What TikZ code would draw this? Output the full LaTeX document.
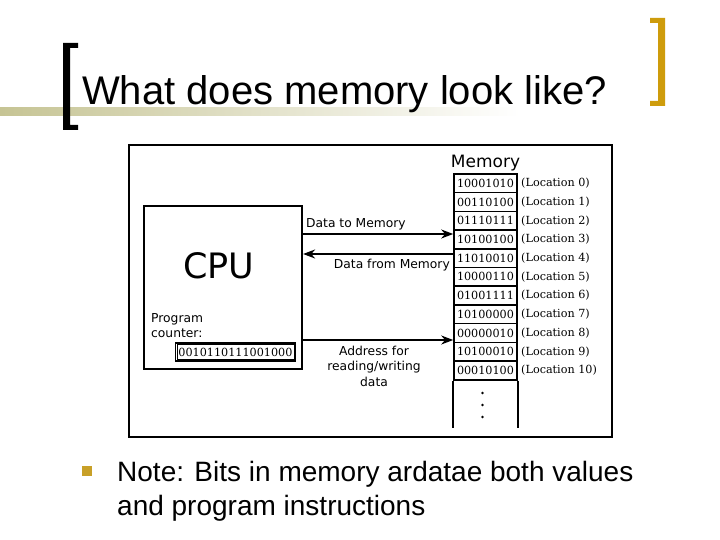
\documentclass[tikz,border=0pt]{standalone}
\usepackage{fontspec}
\setmainfont{Liberation Sans}
\newfontfamily\dvs{DejaVu Sans}
\newfontfamily\dvserif{DejaVu Serif}
\usetikzlibrary{arrows.meta}
\definecolor{gold}{RGB}{206,156,12}
\definecolor{khaki}{RGB}{198,196,148}
\definecolor{bulletc}{RGB}{200,160,40}
\begin{document}
\begin{tikzpicture}[x=1pt,y=-1pt,
  arr/.style={line width=1.8pt,-{Stealth[length=12pt,width=9pt]}},
  cell/.style={draw,line width=1.6pt,minimum width=63pt,minimum height=18.7pt,inner sep=0pt,font=\dvserif\fontsize{11.2}{13}\selectfont},
  loc/.style={anchor=west,inner sep=0pt,font=\dvserif\fontsize{11.2}{13}\selectfont},
  lbl/.style={inner sep=0pt,font=\dvs\fontsize{12.3}{15}\selectfont},
]
\useasboundingbox (0,0) rectangle (720,540);
\fill[white] (0,0) rectangle (720,540);
% title decoration
\shade[left color=khaki,right color=white] (0,108) rectangle (520,116);
\fill[black] (63,43) -- (78,43) -- (78,48) -- (70,48) -- (70,125) -- (78,125) -- (78,130) -- (63,130) -- cycle;
\fill[gold] (650,18) -- (665,18) -- (665,106) -- (650,106) -- (650,101) -- (658,101) -- (658,23) -- (650,23) -- cycle;
\node[anchor=base west,inner sep=0pt,font=\fontsize{40}{48}\selectfont] (title) at (82,105) {What does memory look like?};
% diagram frame
\node[draw,line width=2.4pt,minimum width=483pt,minimum height=292pt,inner sep=0pt] (frame) at (370.5,291) {};
% CPU
\node[draw,line width=2.2pt,minimum width=158pt,minimum height=163pt,inner sep=0pt] (cpu) at (223,287.5) {};
\node[inner sep=0pt,anchor=base,font=\dvs\fontsize{35}{40}\selectfont] (cputxt) at (219,278) {CPU};
\node[lbl,align=left,anchor=base west,font=\dvs\fontsize{12.3}{14.5}\selectfont] (pclbl) at (151,337) {Program\\counter:};
\node[draw,line width=1.4pt,minimum width=120pt,minimum height=18pt,inner sep=0pt,font=\dvserif\fontsize{11.2}{13}\selectfont] (pc) at (235.5,352) {0010110111001000};
\draw[line width=0.6pt] ([shift={(2,2)}]pc.north west) rectangle ([shift={(-2,-2)}]pc.south east);
% memory
\node[lbl,anchor=base,font=\dvs\fontsize{17}{20}\selectfont] (memlbl) at (485.5,168) {Memory};
\foreach \v [count=\i from 0] in {10001010,00110100,01110111,10100100,11010010,10000110,01001111,10100000,00000010,10100010,00010100} {
  \node[cell] (m\i) at ({485.5},{183.35+18.7*\i}) {\v};
  \node[loc] (l\i) at ({521},{183.35+18.7*\i}) {(Location \i)};
}
\draw[line width=1.6pt] (m10.south west) -- ++(0,47);
\draw[line width=1.6pt] (m10.south east) -- ++(0,47);
\foreach \y in {393,405,417} \fill (482.5,\y) circle (1.4pt);
% connectors
\coordinate (s1) at (cpu.east |- 0,234);
\coordinate (e1) at (m0.west |- 0,234);
\coordinate (s2) at (m0.west |- 0,254);
\coordinate (e2) at (cpu.east |- 0,254);
\coordinate (s3) at (cpu.east |- 0,340);
\coordinate (e3) at (m0.west |- 0,340);
\draw[arr] (s1) -- (e1);
\draw[arr] (s2) -- (e2);
\draw[arr] (s3) -- (e3);
\node[lbl,anchor=base west] (t1) at (306,228) {Data to Memory};
\node[lbl,anchor=base east] (t2) at (450,268) {Data from Memory};
\node[lbl,anchor=base,align=center,font=\dvs\fontsize{12.3}{15.5}\selectfont] (t3) at (374,386) {Address for\\reading/writing\\data};
% bullet
\fill[bulletc] (82,466) rectangle (92,476);
\node[anchor=base west,inner sep=0pt,align=left,font=\fontsize{28}{34}\selectfont] (note) at (117,515) {Note: Bits in memory ardatae both values\\and program instructions};
\end{tikzpicture}
\end{document}
